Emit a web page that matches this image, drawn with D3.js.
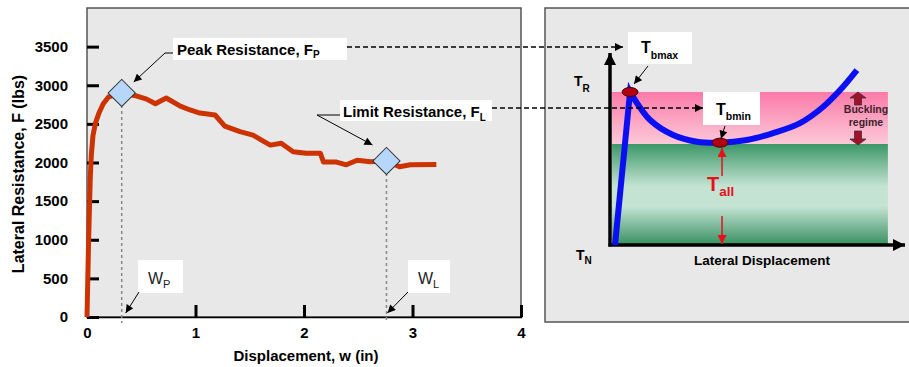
<!DOCTYPE html>
<html>
<head>
<meta charset="utf-8">
<script src="https://cdn.jsdelivr.net/npm/d3@7"></script>
<style>
  body { margin: 0; background: #fff; }
  svg text { font-family: "Liberation Sans", Arial, sans-serif; }
</style>
</head>
<body>
<div id="chart"></div>
<script>
// test curve: displacement (in) vs lateral resistance (lbs)
var dispW = [0, 0.015, 0.03, 0.04, 0.055, 0.08, 0.11, 0.15, 0.2, 0.32, 0.46, 0.55, 0.63, 0.73, 0.86, 0.95, 1.04, 1.18, 1.27, 1.41,
  1.53, 1.62, 1.69, 1.79, 1.90, 2.02, 2.15, 2.18, 2.30, 2.39, 2.49, 2.61, 2.76, 2.88, 2.98, 3.22];
var forceF = [0, 1000, 1800, 2100, 2350, 2520, 2640, 2760, 2850, 2900, 2860, 2820, 2760, 2835, 2730, 2680, 2640, 2615, 2470, 2400,
  2355, 2280, 2225, 2250, 2140, 2120, 2120, 2005, 2005, 1970, 2030, 2010, 2020, 1945, 1970, 1975];

// peak and limit points
var keyNames = ["peak", "limit"];
var keyW = [0.32, 2.76];
var keyF = [2900, 2020];

var yTicks = [0, 500, 1000, 1500, 2000, 2500, 3000, 3500];
var xTicks = [0, 1, 2, 3, 4];

// schematic on the right (arbitrary units 0-100)
var diagU = [1.7, 6.8, 7.8, 13.6, 21.4, 29.5, 37.3, 46.4, 55.3, 64.4, 72.2, 78, 83.7];
var diagV = [0, 79.7, 77.1, 65.1, 57.3, 53.8, 53.3, 54.7, 58.3, 63.5, 71.9, 80.7, 91.1];
var bandNames = ["allowable", "buckling"];
var bandLow = [0, 52.6];
var bandHigh = [52.6, 79.7];
var bandU = [0.7, 94.2];
var dotU = [6.8, 37.3];
var dotV = [79.7, 53.3];

var svg = d3.select("#chart").append("svg")
  .attr("width", 909)
  .attr("height", 367);

var defs = svg.append("defs");
function arrowMarker(id, color, w, h) {
  defs.append("marker")
    .attr("id", id)
    .attr("viewBox", "0 0 10 10")
    .attr("refX", 10).attr("refY", 5)
    .attr("markerUnits", "userSpaceOnUse")
    .attr("markerWidth", w).attr("markerHeight", h)
    .attr("orient", "auto")
    .append("path").attr("d", "M0,0L10,5L0,10z").attr("fill", color);
}
arrowMarker("ah", "#000", 9, 8);
arrowMarker("ahBig", "#000", 12, 14);
arrowMarker("ahRed", "#e8101a", 9, 9);

var pink = defs.append("linearGradient").attr("id", "pinkGrad")
  .attr("x1", 0).attr("y1", 0).attr("x2", 0).attr("y2", 1);
pink.append("stop").attr("offset", "0%").attr("stop-color", "#fb7aa9");
pink.append("stop").attr("offset", "100%").attr("stop-color", "#fcc9d8");

var green = defs.append("linearGradient").attr("id", "greenGrad")
  .attr("x1", 0).attr("y1", 0).attr("x2", 0).attr("y2", 1);
green.append("stop").attr("offset", "0%").attr("stop-color", "#3c9767");
green.append("stop").attr("offset", "42%").attr("stop-color", "#c4e3d3");
green.append("stop").attr("offset", "62%").attr("stop-color", "#c4e3d3");
green.append("stop").attr("offset", "100%").attr("stop-color", "#379061");

// ---------- left chart ----------
var xL = d3.scaleLinear().domain([0, 4]).range([87, 521]);
var yL = d3.scaleLinear().domain([0, 4000]).range([317, 8]);

svg.append("rect")
  .attr("x", xL(0)).attr("y", yL(4000))
  .attr("width", xL(4) - xL(0)).attr("height", yL(0) - yL(4000))
  .attr("fill", "#e8e8e8").attr("stroke", "#555").attr("stroke-width", 1.5);

var yAxis = svg.append("g")
  .attr("transform", `translate(${xL(0)},0)`)
  .call(d3.axisLeft(yL).tickValues(yTicks).tickFormat(d3.format("d")).tickSize(-12).tickPadding(19));
yAxis.select(".domain").remove();

var xAxis = svg.append("g")
  .attr("transform", `translate(0,${yL(0)})`)
  .call(d3.axisBottom(xL).tickValues(xTicks).tickFormat(d3.format("d")).tickSize(-12).tickPadding(10));
xAxis.select(".domain").attr("stroke", "#000").attr("stroke-width", 1.5);

svg.selectAll(".tick line").attr("stroke", "#000").attr("stroke-width", 3);
svg.selectAll(".tick text")
  .attr("font-family", "Liberation Sans, Arial, sans-serif")
  .attr("font-size", 15).attr("font-weight", "bold").attr("fill", "#000");

svg.append("text")
  .attr("x", 306).attr("y", 361)
  .attr("text-anchor", "middle")
  .attr("font-size", 15).attr("font-weight", "bold")
  .text("Displacement, w (in)");

svg.append("text")
  .attr("transform", "translate(24,174) rotate(-90)")
  .attr("text-anchor", "middle")
  .attr("font-size", 16).attr("font-weight", "bold")
  .text("Lateral Resistance, F (lbs)");

// dashed guides from key points down to the axis
svg.selectAll(".guide")
  .data(keyW)
  .enter()
  .append("line")
  .attr("class", "guide")
  .attr("x1", d => xL(d)).attr("x2", d => xL(d))
  .attr("y1", (d, i) => yL(keyF[i]))
  .attr("y2", yL(0) + 6)
  .attr("stroke", "#888").attr("stroke-width", 1.5)
  .attr("stroke-dasharray", "3,3");

var curve = d3.line()
  .x(d => xL(d[0]))
  .y(d => yL(d[1]));

svg.append("path")
  .datum(dispW.map((w, i) => [w, forceF[i]]))
  .attr("d", curve)
  .attr("fill", "none")
  .attr("stroke", "#cc3300")
  .attr("stroke-width", 5)
  .attr("stroke-linejoin", "round");

svg.selectAll(".key")
  .data(keyW)
  .enter()
  .append("path")
  .attr("class", "key")
  .attr("d", d3.symbol(d3.symbolSquare, 370))
  .attr("transform", (d, i) => `translate(${xL(d)},${yL(keyF[i])}) rotate(45)`)
  .attr("fill", "#b6d6fa").attr("stroke", "#333").attr("stroke-width", 1);

// label boxes
function box(x, y, w, h) {
  svg.append("rect").attr("x", x).attr("y", y).attr("width", w).attr("height", h).attr("fill", "#fff");
}
function subLabel(x, y, main, sub, size, subSize, weight, color, dy) {
  var t = svg.append("text").attr("x", x).attr("y", y)
    .attr("font-size", size).attr("font-weight", weight).attr("fill", color || "#000");
  t.append("tspan").text(main);
  t.append("tspan").attr("font-size", subSize).attr("dy", dy).text(sub);
  return t;
}

box(173, 38, 174, 22);
subLabel(177, 55, "Peak Resistance, F", "P", 15, 10, "bold", "#000", 3);
box(340, 100, 152, 21);
subLabel(343, 116.5, "Limit Resistance, F", "L", 15, 10, "bold", "#000", 4);

box(138, 260, 45, 33);
subLabel(148, 284, "W", "P", 16, 11, "normal", "#222", 4);
box(408, 260, 42, 33);
subLabel(418, 284, "W", "L", 16, 11, "normal", "#222", 4);

var px = xL(keyW[0]), py = yL(keyF[0]);
var lx = xL(keyW[1]), ly = yL(keyF[1]);

function arrow(points, marker, color, width, dash) {
  svg.append("path")
    .attr("d", d3.line()(points))
    .attr("fill", "none")
    .attr("stroke", color).attr("stroke-width", width)
    .attr("stroke-dasharray", dash || null)
    .attr("marker-end", `url(#${marker})`);
}

arrow([[173, 53], [165, 53], [px + 12, py - 11]], "ah", "#000", 1);
arrow([[340, 115], [317, 115], [lx - 14, ly - 16]], "ah", "#000", 1);
arrow([[139, 292], [px + 4, yL(0) - 4]], "ah", "#000", 1);
arrow([[408, 292], [lx + 1, yL(0) - 4]], "ah", "#000", 1);

// ---------- right schematic ----------
svg.append("rect")
  .attr("x", 545).attr("y", 8)
  .attr("width", 400).attr("height", 314)
  .attr("fill", "#e8e8e8").attr("stroke", "#555").attr("stroke-width", 1.5);

var xR = d3.scaleLinear().domain([0, 100]).range([610, 905]);
var yR = d3.scaleLinear().domain([0, 100]).range([245, 53]);

svg.selectAll(".band")
  .data(bandNames)
  .enter()
  .append("rect")
  .attr("class", "band")
  .attr("x", xR(bandU[0]))
  .attr("width", xR(bandU[1]) - xR(bandU[0]))
  .attr("y", (d, i) => yR(bandHigh[i]))
  .attr("height", (d, i) => yR(bandLow[i]) - yR(bandHigh[i]))
  .attr("fill", (d, i) => i === 0 ? "url(#greenGrad)" : "url(#pinkGrad)");

// axes arrows
arrow([[xR(0), yR(0) + 1.5], [xR(0), yR(100)]], "ahBig", "#000", 3.5);
arrow([[xR(0) - 1.5, yR(0)], [xR(100), yR(0)]], "ahBig", "#000", 3.5);

var pts = diagU.map((u, i) => [xR(u), yR(diagV[i])]);
svg.append("path")
  .attr("d", d3.line()(pts.slice(0, 2)) + d3.line().curve(d3.curveCatmullRom.alpha(0.5))(pts.slice(1)).replace("M", "L"))
  .attr("fill", "none")
  .attr("stroke", "#0a10f2")
  .attr("stroke-width", 6)
  .attr("stroke-linejoin", "miter");

svg.selectAll(".dot")
  .data(dotU)
  .enter()
  .append("ellipse")
  .attr("class", "dot")
  .attr("cx", d => xR(d))
  .attr("cy", (d, i) => yR(dotV[i]))
  .attr("rx", 8).attr("ry", 4.5)
  .attr("fill", "#b00012").attr("stroke", "#4a0000").attr("stroke-width", 1);

// buckling block arrows
var bx = 858;
svg.append("path")
  .attr("d", `M${bx},92L${bx + 8},98L${bx + 3.5},98L${bx + 3.5},105L${bx - 3.5},105L${bx - 3.5},98L${bx - 8},98Z`)
  .attr("fill", "#a3102c").attr("stroke", "#333").attr("stroke-width", 0.8);
svg.append("path")
  .attr("d", `M${bx},145L${bx + 8},139L${bx + 3.5},139L${bx + 3.5},131L${bx - 3.5},131L${bx - 3.5},139L${bx - 8},139Z`)
  .attr("fill", "#a3102c").attr("stroke", "#333").attr("stroke-width", 0.8);
svg.append("text").attr("x", 866).attr("y", 113).attr("text-anchor", "middle")
  .attr("font-size", 10.5).attr("font-weight", "bold").attr("fill", "#3d1f2a").text("Buckling");
svg.append("text").attr("x", 866).attr("y", 126).attr("text-anchor", "middle")
  .attr("font-size", 10.5).attr("font-weight", "bold").attr("fill", "#3d1f2a").text("regime");

// labels
box(628, 32, 64, 32);
subLabel(641, 53, "T", "bmax", 16, 10.5, "bold", "#000", 6);
box(703, 92, 57, 33);
subLabel(716, 115, "T", "bmin", 16, 10.5, "bold", "#000", 5);
arrow([[648, 66], [xR(dotU[0]) + 4, yR(dotV[0]) - 8]], "ah", "#000", 1);
arrow([[725, 126], [xR(dotU[1]) + 1, yR(dotV[1]) - 4]], "ah", "#000", 1);

subLabel(574, 86, "T", "R", 14, 10, "bold", "#000", 6);
subLabel(576, 260, "T", "N", 14, 10, "bold", "#000", 4);

svg.append("text").attr("x", 762).attr("y", 265).attr("text-anchor", "middle")
  .attr("font-size", 13.5).attr("font-weight", "bold").text("Lateral Displacement");

subLabel(707, 191, "T", "all", 20, 13.5, "bold", "#e8101a", 5);
arrow([[xR(dotU[1]) + 2, 176], [xR(dotU[1]) + 2, 148]], "ahRed", "#e8101a", 1.5);
arrow([[xR(dotU[1]) + 2, 216], [xR(dotU[1]) + 2, 244]], "ahRed", "#e8101a", 1.5);

// dashed links from left chart to schematic
arrow([[347, 47], [623, 47]], "ah", "#000", 1.5, "5,3");
arrow([[492, 108], [703, 108]], "ah", "#000", 1.5, "5,3");
</script>
</body>
</html>
